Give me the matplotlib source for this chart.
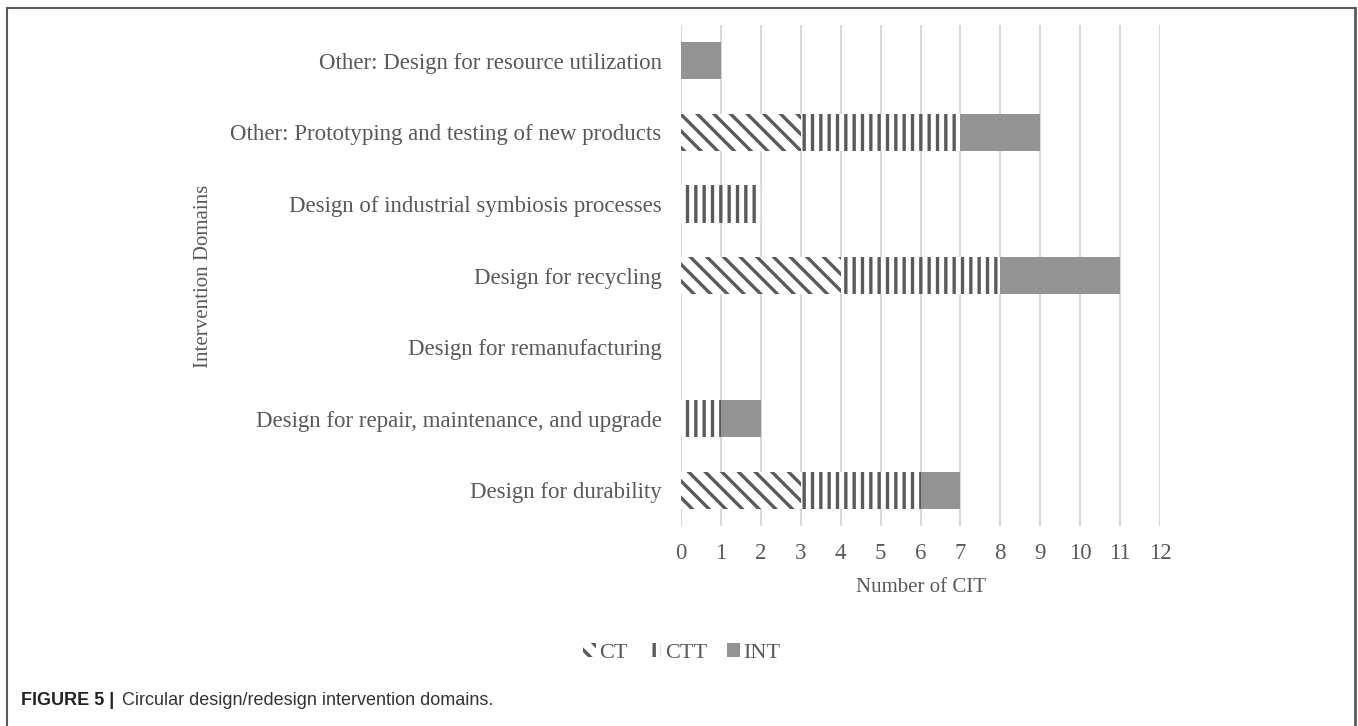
import matplotlib.pyplot as plt
from matplotlib.lines import Line2D
import numpy as np

# data, bottom row first
domains = ['Design for durability',
           'Design for repair, maintenance, and upgrade',
           'Design for remanufacturing',
           'Design for recycling',
           'Design of industrial symbiosis processes',
           'Other: Prototyping and testing of new products',
           'Other: Design for resource utilization']
ct = [3, 0, 0, 4, 0, 3, 0]
ctt = [3, 1, 0, 4, 2, 4, 0]
intv = [1, 1, 0, 3, 0, 2, 1]
x_ticks = list(range(0, 13))

txt = '#595959'
plt.rcParams['font.family'] = ['Liberation Serif', 'DejaVu Serif']
plt.rcParams['hatch.linewidth'] = 2.4

fig = plt.figure(figsize=(13.58, 7.26), dpi=100)
ax = fig.add_axes([0.5015, 0.2755, 0.3527, 0.69])

y = np.arange(len(domains))
ct = np.array(ct)
ctt = np.array(ctt)
intv = np.array(intv)
h = 0.52
b1 = ax.barh(y, ct, height=h, color='white', edgecolor='#5a5a5a', hatch='\\\\', linewidth=0, label='CT', zorder=3)
b2 = ax.barh(y, ctt, left=ct, height=h, color='white', edgecolor='#5a5a5a', hatch='||', linewidth=0, label='CTT', zorder=3)
b3 = ax.barh(y, intv, left=ct + ctt, height=h, color='#939393', linewidth=0, label='INT', zorder=3)

ax.set_xlim(0, 12)
ax.set_ylim(-0.5, len(domains) - 0.5)
ax.set_xticks(x_ticks)
ax.set_yticks(y)
ax.set_yticklabels(domains)
ax.tick_params(axis='both', length=0, labelsize=16.5, labelcolor=txt)
ax.tick_params(axis='y', pad=14)
ax.tick_params(axis='x', pad=12)
ax.grid(axis='x', color='#d9d9d9', linewidth=1.5, zorder=0)
ax.set_axisbelow(True)
for s in ax.spines.values():
    s.set_visible(False)
ax.set_xlabel('Number of CIT', fontsize=15, color=txt, labelpad=10)
fig.text(0.1495, 0.62, 'Intervention Domains', rotation=90, fontsize=15,
         color=txt, ha='center', va='center')

leg = fig.legend(handles=[b1, b2, b3], loc='center', bbox_to_anchor=(0.502, 0.1006),
                 ncol=3, frameon=False, fontsize=16, handlelength=0.6, handleheight=0.6,
                 handletextpad=0.15, columnspacing=0.9, labelcolor=txt)

# frame around figure
lc = '#5a5a5a'
fig.add_artist(Line2D([0.0055, 0.0055], [0.0, 0.989], color=lc, lw=1.5))
fig.add_artist(Line2D([0.0055, 0.9975], [0.989, 0.989], color=lc, lw=1.5))
fig.add_artist(Line2D([0.9975, 0.9975], [0.0, 0.989], color=lc, lw=2))

fig.text(0.0155, 0.035, 'FIGURE 5 |', fontsize=13, fontweight='bold', color='#222222',
         family=['Liberation Sans', 'DejaVu Sans'], va='center')
fig.text(0.0895, 0.035, 'Circular design/redesign intervention domains.', fontsize=13,
         color='#333333', family=['Liberation Sans', 'DejaVu Sans'], va='center')

plt.savefig('out.png', dpi=100)
